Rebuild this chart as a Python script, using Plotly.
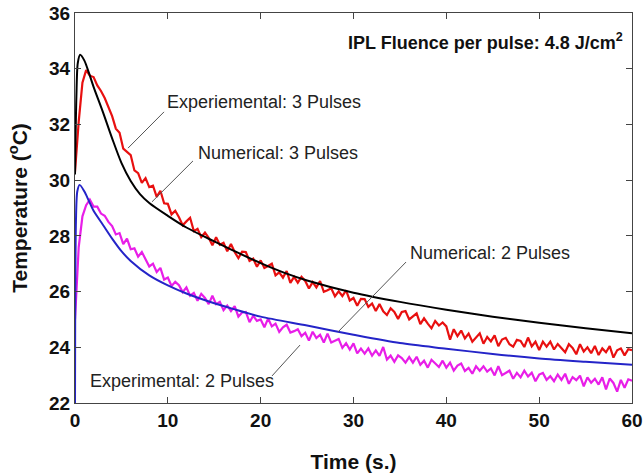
import numpy as np
import plotly.graph_objects as go

# ---------------- data ----------------
# experimental series sampled every 0.4 s from 0 to 60 s
t_exp = np.round(np.arange(0, 60.0001, 0.4), 2)

exp_3_pulses = [
    30.3, 32.1, 33.5, 33.95, 33.75, 33.7, 33.4, 33.2, 32.95, 32.6,
    32.3, 31.85, 31.7, 31.13, 31.03, 30.9, 30.35, 30.25, 29.9, 30.07,
    29.75, 29.8, 29.4, 29.62, 29.17, 29.15, 28.77, 28.9, 28.67, 28.38,
    28.52, 28.65, 28.17, 28.25, 27.95, 28.12, 27.93, 27.66, 27.95, 27.68,
    27.75, 27.45, 27.71, 27.42, 27.2, 27.43, 27.42, 27.1, 27.18, 26.89,
    27.12, 26.85, 26.92, 27.0, 26.58, 26.69, 26.5, 26.74, 26.31, 26.53,
    26.32, 26.53, 26.38, 26.11, 26.34, 26.15, 26.38, 25.99, 26.05, 26.12,
    25.83, 26.01, 25.84, 26.04, 25.68, 25.77, 25.49, 25.74, 25.73, 25.45,
    25.57, 25.3, 25.55, 25.29, 25.16, 25.4, 25.27, 25.02, 25.27, 25.3,
    25.0, 25.11, 25.22, 24.83, 25.04, 24.85, 24.68, 24.94, 24.78, 24.89,
    24.75, 24.27, 24.65, 24.4, 24.6, 24.32, 24.49, 24.2, 24.37, 24.5,
    24.13, 24.37, 24.21, 24.43, 24.04, 24.28, 24.34, 24.11, 24.02, 24.27,
    24.23, 24.01, 24.35, 24.03, 24.2, 23.9, 24.2, 24.02, 24.2, 23.92,
    24.12, 23.96, 23.82, 24.11, 23.98, 23.75, 24.11, 23.85, 24.0, 23.79,
    24.05, 23.72, 23.96, 23.82, 24.04, 23.63, 23.89, 23.96, 23.71, 23.93,
    23.9,
]

exp_2_pulses = [
    25.0, 27.6, 28.7, 29.1, 29.3, 29.05, 29.05, 28.8, 28.72, 28.5,
    28.35, 28.05, 28.1, 27.7, 27.9, 27.52, 27.55, 27.25, 27.42, 27.15,
    26.9, 27.0, 26.7, 26.85, 26.43, 26.5, 26.2, 26.35, 26.23, 25.98,
    26.15, 25.85, 25.95, 25.67, 25.92, 25.77, 25.55, 25.85, 25.55, 25.63,
    25.33, 25.5, 25.3, 25.48, 25.1, 25.25, 25.27, 24.9, 25.13, 24.95,
    25.0, 24.72, 25.03, 24.75, 24.85, 24.55, 24.72, 24.81, 24.53, 24.58,
    24.65, 24.4, 24.52, 24.24, 24.56, 24.33, 24.45, 24.17, 24.49, 24.17,
    24.25, 24.3, 23.98, 24.15, 23.92, 24.14, 23.78, 23.95, 23.77, 23.96,
    23.7, 23.89, 23.69, 24.01, 23.56, 23.7, 23.48, 23.71, 23.61, 23.45,
    23.65, 23.45, 23.66, 23.37, 23.52, 23.27, 23.55, 23.41, 23.29, 23.52,
    23.27, 23.45, 23.16, 23.34, 23.42, 23.15, 23.26, 23.05, 23.32, 23.16,
    23.32, 23.13, 23.24, 22.99, 23.32, 23.0, 23.08, 23.16, 22.87, 23.08,
    22.92, 23.16, 22.95, 23.09, 22.78, 23.02, 23.08, 22.83, 22.96, 22.78,
    23.02, 22.83, 23.05, 22.69, 22.93, 22.82, 22.98, 22.6, 22.92, 22.73,
    22.87, 22.66, 22.92, 22.49, 22.88, 22.72, 22.41, 22.83, 22.55, 22.85,
    22.8,
]

# numerical (smooth) series
t_num3 = [0, 0.15, 0.3, 0.55, 1, 1.5, 2, 3, 4, 5, 6, 7, 8, 10, 12, 15, 17,
          20, 22.5, 25, 30, 35, 40, 45, 50, 55, 60]
num_3_pulses = [30.2, 33.0, 34.2, 34.5, 34.3, 33.85, 33.35, 32.45, 31.5, 30.62,
                29.97, 29.5, 29.18, 28.72, 28.3, 27.8, 27.48, 27.02, 26.68,
                26.4, 25.96, 25.63, 25.35, 25.1, 24.88, 24.68, 24.5]

t_num2 = [0, 0.02, 0.1, 0.25, 0.5, 1, 1.5, 2, 3, 4, 5, 6, 8, 10, 12, 15, 17,
          20, 25, 30, 35, 40, 45, 50, 55, 60]
num_2_pulses = [22.0, 25.0, 28.5, 29.6, 29.83, 29.6, 29.25, 28.9, 28.4, 27.9,
                27.45, 27.1, 26.58, 26.22, 25.93, 25.58, 25.38, 25.1, 24.78,
                24.45, 24.15, 23.95, 23.76, 23.6, 23.48, 23.37]

x_ticks = [0, 10, 20, 30, 40, 50, 60]
y_ticks = [22, 24, 26, 28, 30, 32, 34, 36]

# ---------------- figure ----------------
FONT = "Liberation Sans, Arial, sans-serif"
fig = go.Figure()
fig.add_trace(go.Scatter(x=t_exp, y=exp_2_pulses, mode="lines",
                         line=dict(color="#e81ee8", width=2.2), name="Experimental: 2 Pulses"))
fig.add_trace(go.Scatter(x=t_num2, y=num_2_pulses, mode="lines",
                         line=dict(color="#2424c8", width=2, shape="spline", smoothing=0.8),
                         name="Numerical: 2 Pulses"))
fig.add_trace(go.Scatter(x=t_exp, y=exp_3_pulses, mode="lines",
                         line=dict(color="#e81010", width=2.2), name="Experiemental: 3 Pulses"))
fig.add_trace(go.Scatter(x=t_num3, y=num_3_pulses, mode="lines",
                         line=dict(color="#000000", width=2, shape="spline", smoothing=0.8),
                         name="Numerical: 3 Pulses"))

ann_font = dict(family=FONT, size=18, color="#222")
labels = [
    ("Experiemental: 3 Pulses", 9.69, 32.81, (9.59, 32.45, 5.71, 31.15)),
    ("Numerical: 3 Pulses", 13.03, 30.97, (12.71, 30.69, 8.29, 29.22)),
    ("Numerical: 2 Pulses", 35.87, 27.38, (35.66, 27.06, 28.33, 24.55)),
    ("Experimental: 2 Pulses", 1.40, 22.79, (21.22, 22.97, 24.24, 24.08)),
]
for txt, ax_, ay_, (x0, y0, x1, y1) in labels:
    fig.add_annotation(x=ax_, y=ay_, text=txt, showarrow=False, xanchor="left",
                       yanchor="middle", font=ann_font)
    fig.add_shape(type="line", x0=x0, y0=y0, x1=x1, y1=y1,
                  line=dict(color="#555", width=1))

fig.add_annotation(x=59.25, y=34.96, text="IPL Fluence per pulse: 4.8 J/cm<sup>2</sup>",
                   showarrow=False, xanchor="right", yanchor="middle",
                   font=dict(family=FONT, size=18, color="#111", weight="bold"))

axis_common = dict(showline=True, linecolor="#444", linewidth=1, mirror="ticks",
                   ticks="inside", ticklen=6, tickcolor="#444", showgrid=False,
                   zeroline=False, automargin=False,
                   tickfont=dict(family=FONT, size=19, color="#111", weight="bold"))
fig.update_xaxes(range=[0, 60], tickvals=x_ticks,
                 title=dict(text="Time (s.)", standoff=28,
                            font=dict(family=FONT, size=21, color="#111", weight="bold")),
                 **axis_common)
fig.update_yaxes(range=[22, 36], tickvals=y_ticks,
                 title=dict(text="Temperature (<sup>o</sup>C)", standoff=15,
                            font=dict(family=FONT, size=21, color="#111", weight="bold")),
                 **axis_common)

fig.update_layout(width=643, height=473, margin=dict(l=75, r=11, t=13, b=70),
                  paper_bgcolor="white", plot_bgcolor="white", showlegend=False)

fig.write_html("out.html")
